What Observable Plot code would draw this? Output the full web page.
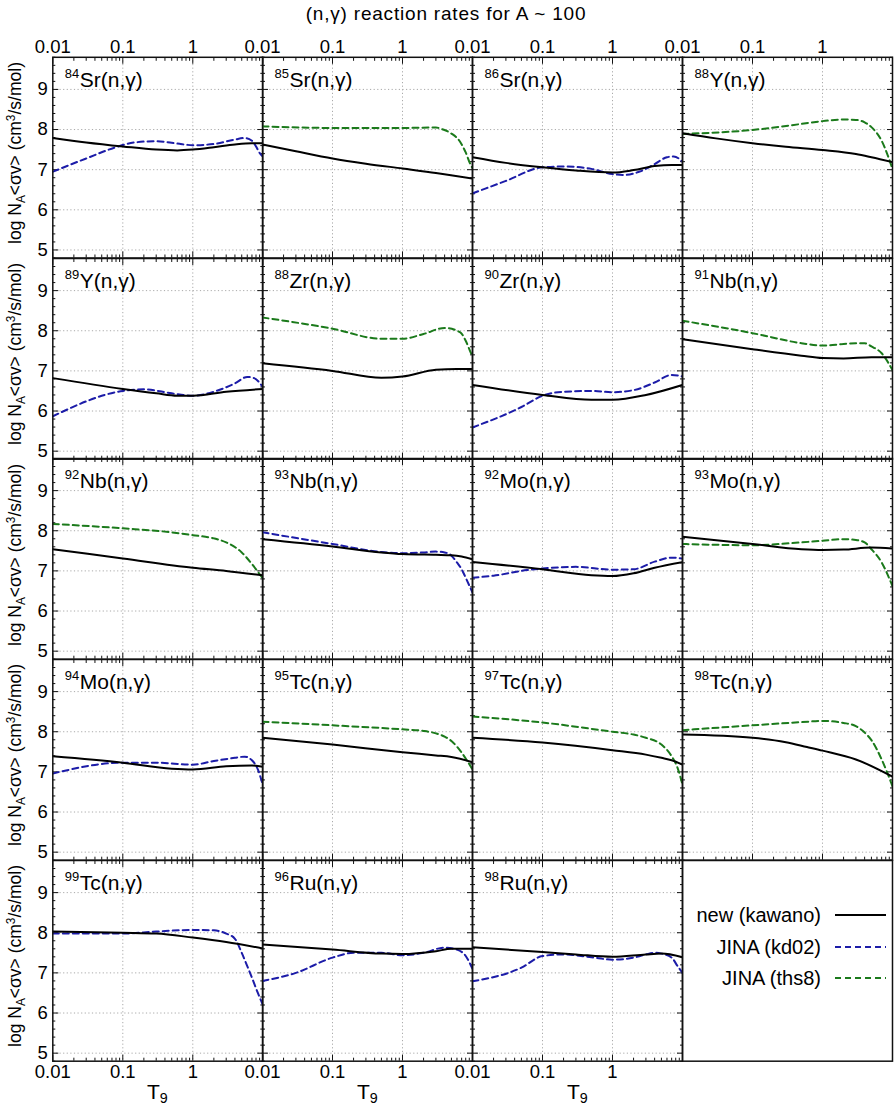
<!DOCTYPE html>
<html><head><meta charset="utf-8">
<script src="https://cdn.jsdelivr.net/npm/d3@7"></script>
<script src="https://cdn.jsdelivr.net/npm/@observablehq/plot@0.6"></script>
<style>
body{margin:0;background:#fff;}
#root{position:relative;width:894px;height:1117px;font-family:"Liberation Sans",Arial,Helvetica,sans-serif;color:#000;overflow:hidden;background:#fff}
.lab{position:absolute;white-space:nowrap;line-height:1}
.lab sub{font-size:0.68em;vertical-align:-0.3em;line-height:0}
.lab sup{font-size:0.68em;vertical-align:0.5em;line-height:0}
</style></head><body><div id="root"></div>
<script>
// ---------- data ----------
const title = "(n,γ) reaction rates for A ~ 100";
const masses   = ["84","85","86","88","89","88","90","91","92","93","92","93","94","95","97","98","99","96","98"];
const elements = ["Sr","Sr","Sr","Y","Y","Zr","Zr","Nb","Nb","Nb","Mo","Mo","Mo","Tc","Tc","Tc","Tc","Ru","Ru"];
const seriesNames = ["new (kawano)", "JINA (kd02)", "JINA (ths8)"];
const xTickLabels = [0.01, 0.1, 1];
const xMajor = [0.01, 0.1, 1, 10];
const xMinor = [0.02,0.03,0.04,0.05,0.06,0.07,0.08,0.09,0.2,0.3,0.4,0.5,0.6,0.7,0.8,0.9,2,3,4,5,6,7,8,9];
const yTickLabels = [5, 6, 7, 8, 9];
const yMinor = [4.8,5.2,5.4,5.6,5.8,6.2,6.4,6.6,6.8,7.2,7.4,7.6,7.8,8.2,8.4,8.6,8.8,9.2,9.4,9.6,9.8];

// [T9, log rate]
const sr84_kawano = [[0.01,7.79],[0.03,7.68],[0.1,7.58],[0.3,7.5],[0.6,7.48],[1,7.5],[2,7.56],[4,7.63],[7,7.66],[10,7.66]];
const sr84_kd02   = [[0.01,6.95],[0.03,7.28],[0.08,7.56],[0.15,7.68],[0.3,7.71],[0.6,7.65],[1,7.61],[2,7.64],[4,7.75],[5.5,7.79],[7,7.72],[8,7.58],[9,7.42],[10,7.33]];
const sr85_kawano = [[0.01,7.63],[0.03,7.46],[0.1,7.28],[0.3,7.15],[1,7.03],[3,6.92],[10,6.78]];
const sr85_ths8   = [[0.01,8.08],[0.1,8.04],[1,8.04],[3,8.05],[3.8,8.0],[5,7.9],[6.5,7.72],[8,7.43],[9.3,7.14],[10,7.04]];
const sr86_kawano = [[0.01,7.31],[0.03,7.17],[0.1,7.06],[0.3,6.98],[1,6.93],[2,6.99],[4,7.09],[7,7.12],[10,7.12]];
const sr86_kd02   = [[0.01,6.41],[0.03,6.72],[0.1,7.06],[0.2,7.08],[0.5,7.02],[1,6.89],[1.5,6.87],[2.5,6.96],[4,7.14],[6,7.31],[7.5,7.33],[10,7.2]];
const y88_kawano  = [[0.01,7.91],[0.03,7.78],[0.1,7.66],[0.3,7.57],[1,7.49],[3,7.39],[5,7.31],[10,7.19]];
const y88_ths8    = [[0.01,7.89],[0.1,7.99],[0.5,8.14],[1,8.21],[2,8.25],[3,8.24],[4,8.18],[5,8.06],[7,7.72],[10,7.02]];
const y89_kawano  = [[0.01,6.82],[0.1,6.55],[0.3,6.44],[0.6,6.38],[1,6.38],[3,6.48],[10,6.55]];
const y89_kd02    = [[0.01,5.87],[0.1,6.5],[0.2,6.54],[0.5,6.44],[1,6.38],[2,6.48],[4,6.69],[6,6.85],[7.5,6.82],[10,6.6]];
const zr88_kawano = [[0.01,7.19],[0.1,7.0],[0.5,6.83],[1,6.86],[3,7.03],[6,7.05],[10,7.05]];
const zr88_ths8   = [[0.01,8.33],[0.1,8.05],[0.5,7.8],[1,7.8],[2,7.92],[4,8.07],[6.7,7.96],[8,7.75],[9.3,7.48],[10,7.35]];
const zr90_kawano = [[0.01,6.65],[0.1,6.4],[0.5,6.28],[1,6.28],[3,6.4],[10,6.65]];
const zr90_kd02   = [[0.01,5.59],[0.05,6.1],[0.1,6.38],[0.2,6.48],[0.5,6.5],[1,6.47],[2,6.52],[4,6.71],[7,6.9],[10,6.86]];
const nb91_kawano = [[0.01,7.79],[0.1,7.54],[0.5,7.38],[1,7.32],[2,7.31],[5,7.34],[10,7.34]];
const nb91_ths8   = [[0.01,8.25],[0.1,7.94],[0.5,7.69],[1,7.63],[2,7.67],[3,7.69],[4,7.69],[5,7.61],[7,7.44],[10,7.02]];
const nb92_kawano = [[0.01,7.54],[0.1,7.31],[1,7.08],[3,7.0],[10,6.89]];
const nb92_ths8   = [[0.01,8.17],[0.1,8.06],[0.5,7.96],[1,7.89],[2,7.81],[3,7.71],[5,7.46],[7,7.17],[10,6.81]];
const nb93_kawano = [[0.01,7.79],[0.1,7.61],[0.5,7.46],[1,7.42],[3,7.4],[5,7.39],[7,7.36],[10,7.29]];
const nb93_kd02   = [[0.01,7.96],[0.1,7.67],[0.5,7.47],[1,7.44],[2,7.46],[3,7.48],[4,7.46],[5,7.38],[6,7.21],[7,7.04],[8,6.83],[10,6.46]];
const mo92_kawano = [[0.01,7.22],[0.1,7.04],[0.5,6.89],[1,6.87],[2,6.94],[4,7.08],[10,7.22]];
const mo92_kd02   = [[0.01,6.83],[0.02,6.88],[0.06,7.02],[0.1,7.06],[0.3,7.1],[1,7.03],[2,7.04],[4,7.23],[7,7.33],[10,7.31]];
const mo93_kawano = [[0.01,7.85],[0.1,7.67],[0.5,7.54],[1,7.52],[2,7.53],[5,7.58],[10,7.56]];
const mo93_ths8   = [[0.01,7.67],[0.1,7.64],[0.5,7.71],[1,7.75],[2,7.79],[3,7.77],[4,7.71],[5,7.54],[7,7.21],[10,6.62]];
const mo94_kawano = [[0.01,7.39],[0.1,7.23],[0.5,7.08],[1,7.06],[3,7.14],[7,7.16],[10,7.13]];
const mo94_kd02   = [[0.01,6.96],[0.1,7.23],[0.3,7.23],[1,7.18],[2,7.27],[4,7.35],[5.5,7.38],[7,7.29],[8.5,7.06],[10,6.68]];
const tc95_kawano = [[0.01,7.85],[0.1,7.68],[1,7.49],[3,7.41],[5,7.37],[10,7.24]];
const tc95_ths8   = [[0.01,8.25],[0.1,8.16],[1,8.06],[2,8.02],[3,7.96],[4,7.88],[5,7.77],[7,7.48],[10,7.06]];
const tc97_kawano = [[0.01,7.85],[0.1,7.73],[1,7.54],[3,7.43],[5,7.35],[7,7.29],[10,7.18]];
const tc97_ths8   = [[0.01,8.38],[0.1,8.23],[1,8.0],[2,7.93],[3,7.85],[5,7.68],[7,7.39],[8.5,7.1],[10,6.68]];
const tc98_kawano = [[0.01,7.93],[0.1,7.85],[0.3,7.74],[0.6,7.62],[1,7.53],[3,7.31],[10,6.88]];
const tc98_ths8   = [[0.01,8.04],[0.1,8.16],[0.5,8.24],[1,8.27],[2,8.22],[3,8.14],[4,7.98],[5,7.79],[7,7.31],[10,6.64]];
const tc99_kawano = [[0.01,8.03],[0.1,8.0],[0.3,7.98],[1,7.88],[3,7.77],[10,7.61]];
const tc99_kd02   = [[0.01,7.98],[0.1,7.98],[0.3,8.03],[1,8.07],[2,8.06],[3,7.98],[4,7.85],[5,7.5],[6,7.17],[7,6.88],[8.5,6.5],[10,6.21]];
const ru96_kawano = [[0.01,7.71],[0.1,7.58],[0.5,7.48],[1,7.47],[3,7.54],[5,7.6],[10,7.6]];
const ru96_kd02   = [[0.01,6.8],[0.03,7.0],[0.1,7.38],[0.2,7.5],[0.5,7.5],[1,7.44],[2,7.5],[4,7.63],[6,7.58],[8,7.42],[10,7.1]];
const ru98_kawano = [[0.01,7.64],[0.1,7.52],[0.3,7.46],[1,7.4],[3,7.46],[5,7.48],[10,7.39]];
const ru98_kd02   = [[0.01,6.79],[0.05,7.13],[0.1,7.42],[0.2,7.46],[0.5,7.39],[1,7.33],[2,7.38],[3,7.46],[4,7.5],[5,7.48],[7,7.38],[8.5,7.17],[10,7.0]];

const kawanoSeries = [sr84_kawano,sr85_kawano,sr86_kawano,y88_kawano,y89_kawano,zr88_kawano,zr90_kawano,nb91_kawano,nb92_kawano,nb93_kawano,mo92_kawano,mo93_kawano,mo94_kawano,tc95_kawano,tc97_kawano,tc98_kawano,tc99_kawano,ru96_kawano,ru98_kawano];
const kd02Series = [sr84_kd02,null,sr86_kd02,null,y89_kd02,null,zr90_kd02,null,null,nb93_kd02,mo92_kd02,null,mo94_kd02,null,null,null,tc99_kd02,ru96_kd02,ru98_kd02];
const ths8Series = [null,sr85_ths8,null,y88_ths8,null,zr88_ths8,null,nb91_ths8,nb92_ths8,null,null,mo93_ths8,null,tc95_ths8,tc97_ths8,tc98_ths8,null,null,null];

// ---------- layout ----------
const X0 = 52.3, Y0 = 56.8, PW = 210, PH = 200.7;
const FONT = '"Liberation Sans", Arial, Helvetica, sans-serif';
const C_BLACK = "#000", C_BLUE = "#1c1ca8", C_GREEN = "#1b7a1b";
const DASH = "6,4";
const root = document.getElementById("root");

function label(html, x, y, {size = 18, spacing = 0} = {}) {
  const d = document.createElement("div");
  d.className = "lab";
  d.innerHTML = html;
  d.style.left = x + "px";
  d.style.top = y + "px";
  d.style.fontSize = size + "px";
  if (spacing) d.style.letterSpacing = spacing + "px";
  d.style.transform = "translate(-50%,-50%)";
  root.appendChild(d);
  return d;
}

function sideTicks() {
  const t = {stroke: "#111", strokeWidth: 1, fill: "none", label: null};
  return [
    Plot.axisX({...t, anchor: "top", ticks: xMajor, tickSize: -6}),
    Plot.axisX({...t, anchor: "top", ticks: xMinor, tickSize: -3}),
    Plot.axisX({...t, anchor: "bottom", ticks: xMajor, tickSize: -6}),
    Plot.axisX({...t, anchor: "bottom", ticks: xMinor, tickSize: -3}),
    Plot.axisY({...t, anchor: "left", ticks: yTickLabels, tickSize: -6}),
    Plot.axisY({...t, anchor: "left", ticks: yMinor, tickSize: -3}),
    Plot.axisY({...t, anchor: "right", ticks: yTickLabels, tickSize: -6}),
    Plot.axisY({...t, anchor: "right", ticks: yMinor, tickSize: -3})
  ];
}

function place(svg, left, top) {
  svg.style.position = "absolute";
  svg.style.left = left + "px";
  svg.style.top = top + "px";
  root.appendChild(svg);
}

masses.forEach((mass, i) => {
  const col = i % 4, row = Math.floor(i / 4);
  const mL = col === 0 ? 52.3 : 1, mT = row === 0 ? 56.8 : 1, mR = 1, mB = row === 4 ? 40 : 1;
  const marks = [
    Plot.gridX({ticks: [0.1, 1], stroke: "#aaa", strokeOpacity: 1, strokeDasharray: "1.2,2.4", strokeWidth: 1}),
    Plot.gridY({ticks: yTickLabels, stroke: "#aaa", strokeOpacity: 1, strokeDasharray: "1.2,2.4", strokeWidth: 1}),
    ...sideTicks()
  ];
  if (col === 0) marks.push(Plot.axisY({anchor: "left", ticks: yTickLabels, tickSize: 0, tickPadding: 5, fontSize: 18.5, label: null, tickFormat: d => String(d)}));
  if (row === 0) marks.push(Plot.axisX({anchor: "top", ticks: xTickLabels, tickSize: 0, tickPadding: 4, fontSize: 18.5, label: null, tickFormat: d => String(d)}));
  if (row === 4) marks.push(Plot.axisX({anchor: "bottom", ticks: xTickLabels, tickSize: 0, tickPadding: 4, fontSize: 18.5, label: null, tickFormat: d => String(d)}));
  const ths8 = ths8Series[i], kd02 = kd02Series[i];
  if (ths8) marks.push(Plot.line(ths8, {x: d => d[0], y: d => d[1], stroke: C_GREEN, strokeWidth: 2, strokeDasharray: DASH, curve: "monotone-x", clip: true}));
  if (kd02) marks.push(Plot.line(kd02, {x: d => d[0], y: d => d[1], stroke: C_BLUE, strokeWidth: 2, strokeDasharray: DASH, curve: "monotone-x", clip: true}));
  marks.push(Plot.line(kawanoSeries[i], {x: d => d[0], y: d => d[1], stroke: C_BLACK, strokeWidth: 2, curve: "monotone-x", clip: true}));
  marks.push(Plot.text([mass], {text: d => d, frameAnchor: "top-left", dx: 12, dy: 11.5, fontSize: 13, lineAnchor: "top", textAnchor: "start", fill: "#000"}));
  marks.push(Plot.text([elements[i] + "(n,γ)"], {text: d => d, frameAnchor: "top-left", dx: 27, dy: 15, fontSize: 21, lineAnchor: "top", textAnchor: "start", fill: "#000"}));
  marks.push(Plot.frame({stroke: "#111", strokeWidth: 1.5}));
  const svg = Plot.plot({
    width: mL + PW + mR, height: mT + PH + mB,
    marginLeft: mL, marginRight: mR, marginTop: mT, marginBottom: mB,
    x: {type: "log", domain: [0.01, 10], label: null},
    y: {domain: [4.8, 9.8], label: null},
    style: {overflow: "visible", background: "transparent", fontFamily: FONT, fontSize: "18px", color: "#000"},
    marks
  });
  place(svg, X0 + col * PW - mL, Y0 + row * PH - mT);
});

// legend cell (row 5, col 4)
const legendSvg = Plot.plot({
  width: PW + 2, height: PH + 2, margin: 1,
  x: {domain: [0, 1], axis: null}, y: {domain: [0, 1], axis: null},
  style: {overflow: "visible", background: "transparent"},
  marks: [Plot.frame({stroke: "#111", strokeWidth: 1.5})]
});
place(legendSvg, X0 + 3 * PW - 1, Y0 + 4 * PH - 1);

const legendColors = [C_BLACK, C_BLUE, C_GREEN];
const legendDash = [null, DASH, DASH];
const legendY = [915, 946.5, 977.5];
seriesNames.forEach((name, k) => {
  const d = label(name, 821, legendY[k], {size: 20});
  d.style.transform = "translate(-100%,-50%)";
  const ns = "http://www.w3.org/2000/svg";
  const s = document.createElementNS(ns, "svg");
  s.setAttribute("width", 54); s.setAttribute("height", 6);
  s.style.position = "absolute"; s.style.left = "834px"; s.style.top = (legendY[k] - 3) + "px";
  const l = document.createElementNS(ns, "line");
  l.setAttribute("x1", 1); l.setAttribute("x2", 52); l.setAttribute("y1", 3); l.setAttribute("y2", 3);
  l.setAttribute("stroke", legendColors[k]); l.setAttribute("stroke-width", 2);
  if (legendDash[k]) l.setAttribute("stroke-dasharray", legendDash[k]);
  s.appendChild(l);
  root.appendChild(s);
});

// titles
label(title, 446, 13, {size: 19, spacing: 0.8});
for (let r = 0; r < 5; r++) {
  const d = label("log N<sub>A</sub>&lt;σv&gt; (cm<sup>3</sup>/s/mol)", 16, Y0 + r * PH + PH / 2 - 4, {size: 17.5});
  d.style.transform = "translate(-50%,-50%) rotate(-90deg)";
}
for (let c = 0; c < 3; c++) label("T<sub>9</sub>", X0 + c * PW + PW / 2, 1091, {size: 21});
</script></body></html>
